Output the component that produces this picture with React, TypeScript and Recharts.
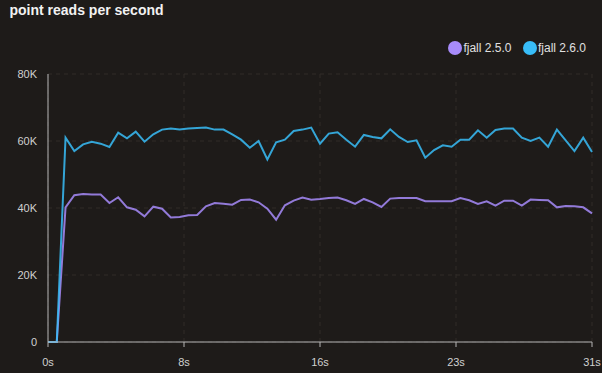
import React from "react";
import { LineChart, Line, XAxis, YAxis, CartesianGrid } from "recharts";

const times = [
  0, 0.5, 1, 1.5, 2, 2.5, 3, 3.5, 4, 4.5, 5, 5.5, 6, 6.5, 7, 7.5, 8, 8.5, 9, 9.5,
  10, 10.5, 11, 11.5, 12, 12.5, 13, 13.5, 14, 14.5, 15, 15.5, 16, 16.5, 17, 17.5,
  18, 18.5, 19, 19.5, 20, 20.5, 21, 21.5, 22, 22.5, 23, 23.5, 24, 24.5, 25, 25.5,
  26, 26.5, 27, 27.5, 28, 28.5, 29, 29.5, 30, 30.5, 31,
];

const fjall250 = [
  0, 0, 40200, 43800, 44200, 44000, 44000, 41500, 43200, 40200, 39500, 37500, 40400,
  39800, 37200, 37300, 37800, 37900, 40500, 41500, 41300, 41000, 42400, 42500, 41700,
  39800, 36500, 40800, 42200, 43100, 42500, 42700, 43000, 43100, 42300, 41200, 42700,
  41700, 40300, 42800, 43000, 43000, 43000, 42000, 42000, 42000, 42000, 43000, 42300,
  41200, 42000, 40700, 42200, 42200, 40700, 42500, 42400, 42300, 40200, 40600, 40500,
  40200, 38400,
];

const fjall260 = [
  0, 0, 61000, 57000, 59000, 59800, 59200, 58200, 62500, 60800, 62800, 59800, 62000,
  63400, 63700, 63400, 63700, 63900, 64000, 63400, 63400, 62000, 60400, 58000, 60000,
  54500, 59600, 60400, 63000, 63400, 64000, 59200, 62200, 62600, 60400, 58300, 61800,
  61200, 60800, 63500, 61200, 59700, 60200, 55000, 57300, 58700, 58300, 60400, 60400,
  63200, 61000, 63300, 63700, 63700, 61000, 60000, 61000, 58300, 63400, 60200, 57000,
  61000, 56700,
];

const xTicks = [0, 7.75, 15.5, 23.25, 31];
const yTicks = [0, 20000, 40000, 60000, 80000];

const seriesNames = ["fjall 2.5.0", "fjall 2.6.0"];
const seriesColors = ["#a78bfa", "#38bdf8"];

const data = times.map((t, i) => ({ t, a: fjall250[i], b: fjall260[i] }));

const FONT = "'Liberation Sans', Arial, sans-serif";

export default function App() {
  return (
    <div
      style={{
        position: "fixed",
        left: 0,
        top: 0,
        width: 602,
        height: 373,
        background: "#1e1b19",
        fontFamily: FONT,
        overflow: "hidden",
      }}
    >
      <div
        style={{
          position: "absolute",
          left: 9.5,
          top: 2,
          fontSize: 14,
          fontWeight: "bold",
          color: "#f2f2f2",
          whiteSpace: "nowrap",
        }}
      >
        point reads per second
      </div>
      <div
        style={{
          position: "absolute",
          right: 16,
          top: 41,
          display: "flex",
          alignItems: "center",
          fontSize: 12,
          color: "#e0e0e0",
        }}
      >
        {seriesNames.map((n, i) => (
          <div
            key={n}
            style={{ display: "flex", alignItems: "center", marginLeft: i === 0 ? 0 : 11.5 }}
          >
            <div
              style={{
                width: 14,
                height: 14,
                borderRadius: 7,
                background: seriesColors[i],
                marginRight: 1,
              }}
            />
            <span style={{ lineHeight: "14px" }}>{n}</span>
          </div>
        ))}
      </div>
      <div style={{ position: "absolute", left: 0, top: 0 }}>
        <LineChart
          width={602}
          height={373}
          data={data}
          margin={{ top: 74, right: 10, bottom: 1, left: 8 }}
        >
          <CartesianGrid stroke="#302c29" strokeDasharray="4 4" />
          <XAxis
            dataKey="t"
            type="number"
            domain={[0, 31]}
            ticks={xTicks}
            interval={0}
            height={30}
            tickSize={5}
            tickMargin={11}
            tickFormatter={(v: number) => `${Math.round(v)}s`}
            stroke="#b5b5b5"
            tick={{ fill: "#d0d0d0", fontSize: 11, fontFamily: FONT }}
          />
          <YAxis
            type="number"
            domain={[0, 80000]}
            ticks={yTicks}
            interval={0}
            width={40}
            tickLine={false}
            tickSize={6}
            tickMargin={5}
            tickFormatter={(v: number) => (v === 0 ? "0" : `${v / 1000}K`)}
            stroke="#b5b5b5"
            tick={{ fill: "#d0d0d0", fontSize: 11, fontFamily: FONT }}
          />
          <Line
            type="linear"
            dataKey="a"
            name={seriesNames[0]}
            stroke={seriesColors[0]}
            strokeOpacity={0.85}
            strokeWidth={2}
            dot={false}
            isAnimationActive={false}
          />
          <Line
            type="linear"
            dataKey="b"
            name={seriesNames[1]}
            stroke={seriesColors[1]}
            strokeOpacity={0.85}
            strokeWidth={2}
            dot={false}
            isAnimationActive={false}
          />
        </LineChart>
      </div>
    </div>
  );
}
